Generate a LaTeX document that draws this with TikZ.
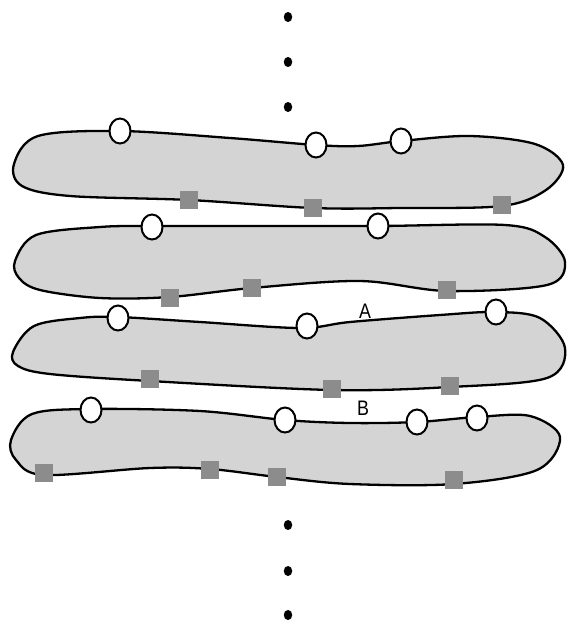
\documentclass[tikz,border=0pt]{standalone}
\usepackage{fontspec}
\setmainfont{Liberation Sans}[FakeStretch=0.85]
\usetikzlibrary{shapes.geometric}
\newcommand{\bandlabelfont}{\fontsize{21pt}{23pt}\selectfont}
\begin{document}
\begin{tikzpicture}[x=1pt,y=-1pt,
  band/.style={draw=black,line width=2.3pt,fill=black!17,line join=round},
  site/.style={ellipse,draw=black,line width=2pt,fill=white,minimum width=21pt,minimum height=25pt,inner sep=0pt},
  mark box/.style={rectangle,fill=black!45,minimum size=18.5pt,inner sep=0pt},
  dotnode/.style={ellipse,fill=black,minimum width=8.5pt,minimum height=10pt,inner sep=0pt},
  lbl/.style={font=\bandlabelfont,inner sep=0pt}]
\useasboundingbox (0,0) rectangle (569,623);

% vertical ellipsis above and below the stack
\node[dotnode] (d1) at (288,17) {};
\node[dotnode] (d2) at (288,62) {};
\node[dotnode] (d3) at (288,107) {};
\node[dotnode] (d4) at (288,525) {};
\node[dotnode] (d5) at (288,571) {};
\node[dotnode] (d6) at (288,615) {};

% band 1
\draw[band] plot[smooth cycle,tension=0.55] coordinates {
  (14,164) (38,136) (120,131) (230,138) (316,145) (358,146) (401,141) (470,136)
  (535,144) (563,165) (546,190) (502,206) (400,208) (313,208) (189,200) (70,196) (22,186)};
% band 2
\draw[band] plot[smooth cycle,tension=0.55] coordinates {
  (15,261) (36,235) (100,227) (152,226) (260,226) (378,226) (505,225)
  (545,237) (565,262) (547,285) (447,291) (360,281) (252,288) (170,297) (100,298) (40,290) (19,278)};
% band 3
\draw[band] plot[smooth cycle,tension=0.55] coordinates {
  (13,352) (34,326) (80,318) (118,317) (200,322) (300,328) (350,322) (440,315) (496,312)
  (540,318) (565,348) (547,378) (450,387) (332,390) (150,381) (50,374) (18,366)};
% band 4
\draw[band] plot[smooth cycle,tension=0.55] coordinates {
  (11,440) (32,414) (91,409) (200,411) (285,420) (350,423) (417,422) (477,417) (530,416)
  (560,437) (537,470) (454,484) (350,484) (277,477) (210,469) (150,468) (44,475) (16,460)};

% band 1 sites
\node[site] (a1) at (120,131) {};
\node[site] (a2) at (316,145) {};
\node[site] (a3) at (401,141) {};
\node[mark box] (s1) at (189,200) {};
\node[mark box] (s2) at (313,208) {};
\node[mark box] (s3) at (502,205) {};
% band 2 sites
\node[site] (b1) at (152,227) {};
\node[site] (b2) at (378,226) {};
\node[mark box] (t1) at (170,298) {};
\node[mark box] (t2) at (252,288) {};
\node[mark box] (t3) at (447,290) {};
% band 3 sites
\node[site] (c1) at (118,318) {};
\node[site] (c2) at (307,326) {};
\node[site] (c3) at (496,312) {};
\node[mark box] (u1) at (150,379) {};
\node[mark box] (u2) at (332,389) {};
\node[mark box] (u3) at (450,386) {};
% band 4 sites
\node[site] (e1) at (91,410) {};
\node[site] (e2) at (285,420) {};
\node[site] (e3) at (417,422) {};
\node[site] (e4) at (477,418) {};
\node[mark box] (v1) at (44,473) {};
\node[mark box] (v2) at (210,470) {};
\node[mark box] (v3) at (277,477) {};
\node[mark box] (v4) at (454,480) {};

% labels
\node[lbl] (la) at (365,311) {A};
\node[lbl] (lb) at (363,408) {B};
\end{tikzpicture}
\end{document}
